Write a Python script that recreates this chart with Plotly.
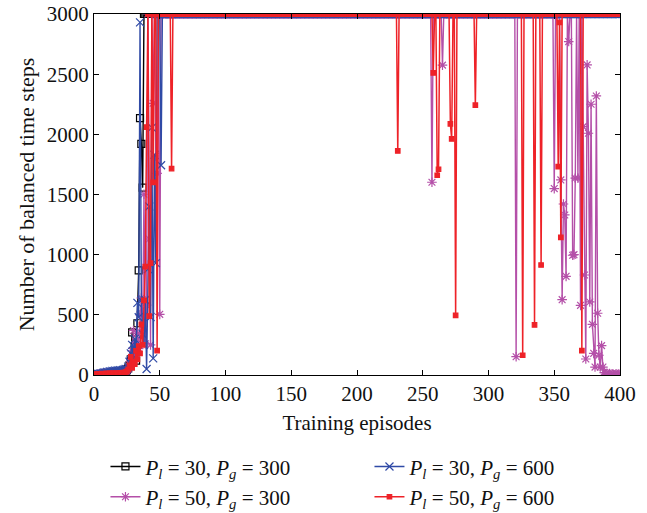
import plotly.graph_objects as go

# Balanced time steps per training episode (episodes 1..400); 3000 is the cap.
episodes = list(range(1, 401))
cap = 3000

# Early learning phase, episodes 1..N, for each parameter setting
early_p30_300 = [0, 2, 5, 3, 8, 6, 10, 12, 9, 15, 11, 14, 18, 13, 20, 16, 22, 19, 25, 21,
                 28, 24, 30, 35, 40, 55, 80, 130, 355, 160, 240, 120, 430, 870, 2134, 1920, 1557]
early_p30_600 = [3, 6, 10, 8, 14, 12, 18, 22, 20, 26, 24, 30, 28, 34, 31, 36, 33, 38, 35, 40,
                 37, 42, 45, 50, 48, 70, 110, 180, 250, 140, 300, 200, 600, 480, 2930, 620, 340,
                 250, 623, 50, 880, 1400, 482, 2056, 138, 1830, 930, 3000, 3000, 3000, 1743]
early_p50_300 = [2, 4, 8, 6, 10, 9, 14, 12, 16, 15, 18, 17, 20, 22, 19, 24, 21, 26, 23, 28,
                 25, 30, 27, 32, 35, 50, 90, 130, 200, 370, 150, 280, 346, 220, 500, 640, 380,
                 1502, 260, 580, 3000, 1130, 250, 3000, 2258, 3000, 1820, 1676, 3000, 504]
early_p50_600 = [5, 8, 4, 10, 7, 12, 9, 6, 11, 14, 8, 13, 10, 15, 12, 9, 16, 11, 14, 18,
                 13, 20, 17, 25, 30, 45, 80, 150, 60, 110, 90, 200, 130, 240, 180, 420, 250,
                 620, 900, 2060, 3000, 490, 930, 3000, 1600, 3000, 3000, 202]

# Later episodes that fell below the cap: (episode, steps)
dips_p30_300 = []
dips_p30_600 = []
dips_p50_300 = [(257, 1602), (265, 2575), (321, 152), (350, 1549), (355, 1621), (356, 626),
                (357, 1421), (358, 1330), (359, 820), (361, 2771), (364, 995), (365, 1000),
                (366, 1636), (368, 1636), (370, 579), (372, 2064), (373, 831), (374, 133),
                (375, 2577), (376, 2009), (377, 607), (378, 2250), (379, 421), (380, 180),
                (381, 66), (382, 2319), (383, 513), (384, 164), (385, 66), (386, 244),
                (387, 66), (388, 20), (389, 8), (390, 15), (391, 5), (392, 12), (393, 3),
                (394, 10), (395, 6), (396, 2), (397, 9), (398, 4), (399, 7), (400, 3)]
dips_p50_600 = [(59, 1715), (231, 1862), (258, 2510), (261, 1660), (262, 1710), (271, 2087),
                (272, 1962), (275, 496), (290, 2242), (326, 164), (335, 416), (340, 914),
                (353, 1731), (354, 2930), (355, 1144), (371, 202)]

labels = ["<i>P</i><sub><i>l</i></sub> = 30, <i>P</i><sub><i>g</i></sub> = 300",
          "<i>P</i><sub><i>l</i></sub> = 30, <i>P</i><sub><i>g</i></sub> = 600",
          "<i>P</i><sub><i>l</i></sub> = 50, <i>P</i><sub><i>g</i></sub> = 300",
          "<i>P</i><sub><i>l</i></sub> = 50, <i>P</i><sub><i>g</i></sub> = 600"]


def build(early, dips):
    vals = list(early) + [cap] * (len(episodes) - len(early))
    for ep, v in dips:
        vals[ep - 1] = v
    return vals


series = {
    "p30_300": build(early_p30_300, dips_p30_300),
    "p30_600": build(early_p30_600, dips_p30_600),
    "p50_300": build(early_p50_300, dips_p50_300),
    "p50_600": build(early_p50_600, dips_p50_600),
}

styles = {
    "p30_300": dict(color="#000000", symbol="square-open", size=7, lw=1.4, rank=1, label=labels[0]),
    "p30_600": dict(color="#2f4aa6", symbol="x-thin-open", size=8, lw=1.4, rank=2, label=labels[1]),
    "p50_300": dict(color="#b44fa8", symbol="asterisk-open", size=8, lw=1.4, rank=3, label=labels[2]),
    "p50_600": dict(color="#ee2228", symbol="square", size=4.5, lw=1.5, rank=4, label=labels[3]),
}

fig = go.Figure()
for key in ["p30_300", "p50_300", "p30_600", "p50_600"]:
    s = styles[key]
    fig.add_trace(go.Scatter(
        x=episodes, y=series[key], mode="lines+markers", name=s["label"],
        legendrank=s["rank"],
        line=dict(color=s["color"], width=s["lw"]),
        marker=dict(symbol=s["symbol"], size=s["size"], color=s["color"],
                    line=dict(color=s["color"], width=1.2)),
    ))

font_family = "Liberation Serif"
axis_common = dict(
    showline=True, linecolor="#000", linewidth=1, mirror="ticks",
    ticks="inside", ticklen=5, tickcolor="#000", tickwidth=1,
    showgrid=False, zeroline=False, automargin=False,
    tickfont=dict(family=font_family, size=21, color="#111"),
)

fig.update_layout(
    width=647, height=513,
    margin=dict(l=94, r=27, t=14, b=138),
    plot_bgcolor="white", paper_bgcolor="white",
    font=dict(family=font_family, size=21, color="#111"),
    xaxis=dict(range=[0, 400], tickvals=[0, 50, 100, 150, 200, 250, 300, 350, 400],
               title=dict(text="Training episodes", font=dict(size=21), standoff=10),
               **axis_common),
    yaxis=dict(range=[0, 3000], tickvals=[0, 500, 1000, 1500, 2000, 2500, 3000],
               title=dict(text="Number of balanced time steps", font=dict(size=22), standoff=6),
               **axis_common),
    showlegend=True,
    legend=dict(orientation="h", xref="container", x=0.163, xanchor="left",
                yref="container", y=0.13, yanchor="top",
                entrywidth=219, entrywidthmode="pixels", traceorder="normal",
                font=dict(family=font_family, size=21, color="#111"),
                bgcolor="rgba(0,0,0,0)", itemwidth=30),
)

fig.write_html("out.html")
